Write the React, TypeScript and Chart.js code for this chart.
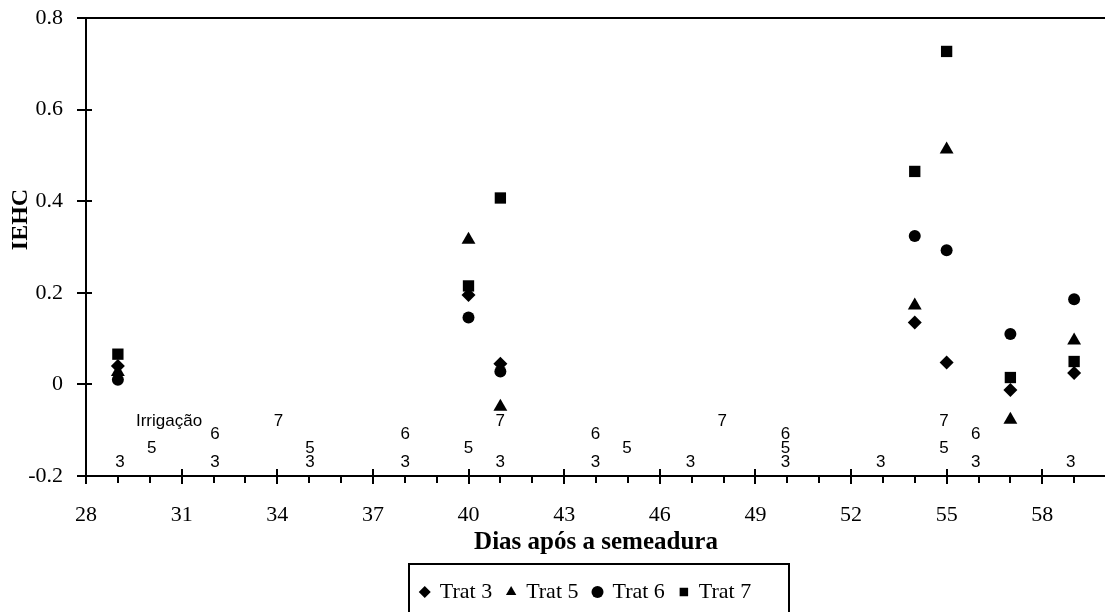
import React, { useEffect, useRef } from "react";
import { Chart, registerables } from "chart.js";

Chart.register(...registerables);

// ---- Data ----
const days = [29, 40, 41, 54, 55, 57, 59];
const trat3 = [0.04, 0.195, 0.045, 0.135, 0.048, -0.012, 0.025];
const trat5 = [0.027, 0.316, -0.049, 0.172, 0.513, -0.077, 0.096];
const trat6 = [0.01, 0.146, 0.028, 0.324, 0.293, 0.11, 0.186];
const trat7 = [0.066, 0.215, 0.407, 0.465, 0.727, 0.015, 0.05];

// Irrigation days per treatment (printed as labels along the bottom)
const irrigDays3 = [29, 32, 35, 38, 41, 44, 47, 50, 53, 56, 59];
const irrigDays5 = [30, 35, 40, 45, 50, 55];
const irrigDays6 = [32, 38, 44, 50, 56];
const irrigDays7 = [34, 41, 48, 55];
const irrigLevel3 = -0.17;
const irrigLevel5 = -0.14;
const irrigLevel6 = -0.11;
const irrigLevel7 = -0.08;
const irrigTitle = "Irrigação";
const irrigTitleDay = 30.55;
const irrigTitleLevel = -0.08;

const xTickValues = [28, 31, 34, 37, 40, 43, 46, 49, 52, 55, 58];
const yTickValues = [-0.2, 0, 0.2, 0.4, 0.6, 0.8];

const xTitle = "Dias após a semeadura";
const yTitle = "IEHC";
const yTitleValue = 0.36; // vertical centre of the y title, in axis units

const CW = 1125;
const CH = 640;

const SERIF = "'Liberation Serif', 'Times New Roman', serif";
const SANS = "'Liberation Sans', Arial, sans-serif";

const pts = (xs: number[], ys: number[]) => xs.map((d, i) => ({ x: d, y: ys[i] }));
const lvl = (xs: number[], level: number) => xs.map((d) => ({ x: d, y: level }));

const framePlugin = {
  id: "frameTicks",
  afterLayout(chart: any) {
    const lg = chart.legend;
    if (lg) {
      lg.left -= 10;
      lg.right -= 10;
    }
  },
  beforeDatasetsDraw(chart: any) {
    const { ctx, chartArea: a, scales } = chart;
    const x = scales.x;
    const y = scales.y;
    ctx.save();
    ctx.strokeStyle = "#000";
    ctx.lineWidth = 2;
    ctx.strokeRect(a.left, a.top, a.right - a.left, a.bottom - a.top);
    ctx.beginPath();
    yTickValues.forEach((v) => {
      const py = Math.round(y.getPixelForValue(v));
      ctx.moveTo(a.left - 9, py);
      ctx.lineTo(a.left + 6, py);
    });
    xTickValues.forEach((v) => {
      const px = Math.round(x.getPixelForValue(v));
      ctx.moveTo(px, a.bottom - 7);
      ctx.lineTo(px, a.bottom + 8);
    });
    for (let d = x.min; d <= x.max; d++) {
      if (xTickValues.indexOf(d) >= 0) continue;
      const px = Math.round(x.getPixelForValue(d));
      ctx.moveTo(px, a.bottom);
      ctx.lineTo(px, a.bottom + 7);
    }
    ctx.stroke();

    // y axis title
    ctx.fillStyle = "#000";
    ctx.font = `bold 24px ${SERIF}`;
    ctx.textAlign = "center";
    ctx.textBaseline = "middle";
    ctx.translate(21, y.getPixelForValue(yTitleValue));
    ctx.rotate(-Math.PI / 2);
    ctx.fillText(yTitle, 0, 0);
    ctx.restore();
  },
  afterDatasetsDraw(chart: any) {
    const { ctx } = chart;
    ctx.save();
    ctx.fillStyle = "#000";
    ctx.font = `17px ${SANS}`;
    ctx.textAlign = "center";
    ctx.textBaseline = "middle";
    chart.data.datasets.forEach((ds: any, i: number) => {
      if (!ds.irrigText) return;
      const meta = chart.getDatasetMeta(i);
      meta.data.forEach((el: any) => {
        ctx.fillText(ds.irrigText, el.x, el.y);
      });
    });
    ctx.restore();
  },
  afterDraw(chart: any) {
    const lg = chart.legend;
    if (!lg || !lg.legendHitBoxes || !lg.legendHitBoxes.length) return;
    const hb = lg.legendHitBoxes;
    const first = hb[0];
    const last = hb[hb.length - 1];
    const { ctx } = chart;
    ctx.save();
    ctx.strokeStyle = "#000";
    ctx.lineWidth = 2;
    const left = Math.round(first.left - 12);
    const right = Math.round(last.left + last.width + 38);
    const top = Math.round(lg.top - 2);
    ctx.strokeRect(left, top, right - left, CH + 20 - top);
    ctx.restore();
  },
};

export default function App() {
  const ref = useRef<HTMLCanvasElement>(null);

  useEffect(() => {
    const canvas = ref.current;
    if (!canvas) return;
    const marker = { backgroundColor: "#000", borderColor: "#000", borderWidth: 0, showLine: false };
    const textSet = (label: string, text: string, data: any[]) => ({
      label,
      irrigText: text,
      data,
      xAxisID: "x2",
      pointRadius: 0,
      pointHoverRadius: 0,
      showLine: false,
    });
    const chart = new Chart(canvas, {
      type: "scatter",
      data: {
        datasets: [
          { label: "Trat 3", data: pts(days, trat3), pointStyle: "rectRot", pointRadius: 7, ...marker },
          { label: "Trat 5", data: pts(days, trat5), pointStyle: "triangle", pointRadius: 8, ...marker },
          { label: "Trat 6", data: pts(days, trat6), pointStyle: "circle", pointRadius: 6, ...marker },
          { label: "Trat 7", data: pts(days, trat7), pointStyle: "rect", pointRadius: 8, ...marker },
          textSet("irr3", "3", lvl(irrigDays3, irrigLevel3)),
          textSet("irr5", "5", lvl(irrigDays5, irrigLevel5)),
          textSet("irr6", "6", lvl(irrigDays6, irrigLevel6)),
          textSet("irr7", "7", lvl(irrigDays7, irrigLevel7)),
          textSet("irrTitle", irrigTitle, [{ x: irrigTitleDay, y: irrigTitleLevel }]),
        ] as any,
      },
      options: {
        responsive: false,
        animation: false,
        devicePixelRatio: 1,
        events: [],
        layout: { padding: { left: 0, top: 18, right: CW - 1106, bottom: 27 } },
        plugins: {
          tooltip: { enabled: false },
          legend: {
            display: true,
            position: "bottom",
            fullSize: false,
            labels: {
              usePointStyle: true,
              boxWidth: 8,
              boxHeight: 8.5,
              padding: 15,
              color: "#000",
              font: { family: SERIF, size: 22 },
              filter: (item: any) => item.datasetIndex < 4,
            },
          },
        },
        scales: {
          x: {
            type: "linear",
            position: "bottom",
            min: 28,
            max: 60,
            afterBuildTicks: (s: any) => {
              s.ticks = xTickValues.map((v) => ({ value: v }));
            },
            afterFit: (s: any) => {
              s.height = 90;
            },
            grid: { display: false, drawTicks: false },
            border: { display: false },
            ticks: {
              color: "#000",
              padding: 26,
              maxRotation: 0,
              autoSkip: false,
              font: { family: SERIF, size: 22 },
            },
            title: {
              display: true,
              text: xTitle,
              color: "#000",
              font: { family: SERIF, size: 25, weight: "bold" },
              padding: { top: 0, bottom: 8 },
            },
          },
          x2: {
            type: "linear",
            display: false,
            min: 27.93,
            max: 60.11,
          },
          y: {
            type: "linear",
            min: -0.2,
            max: 0.8,
            afterBuildTicks: (s: any) => {
              s.ticks = yTickValues.map((v) => ({ value: v }));
            },
            afterFit: (s: any) => {
              s.width = 86;
            },
            grid: {
              display: true,
              drawOnChartArea: false,
              drawTicks: true,
              tickLength: 19,
              tickColor: "rgba(0,0,0,0)",
              color: "rgba(0,0,0,0)",
            },
            border: { display: false },
            ticks: {
              color: "#000",
              padding: 4,
              font: { family: SERIF, size: 22 },
              callback: (v: any) => String(Math.round(Number(v) * 10) / 10),
            },
            title: { display: false },
          },
        },
      } as any,
      plugins: [framePlugin],
    });
    return () => chart.destroy();
  }, []);

  return (
    <div
      style={{
        position: "fixed",
        left: 0,
        top: 0,
        width: 1105,
        height: 612,
        overflow: "hidden",
        background: "#fff",
      }}
    >
      <canvas ref={ref} width={CW} height={CH} style={{ display: "block", width: CW, height: CH }} />
    </div>
  );
}
